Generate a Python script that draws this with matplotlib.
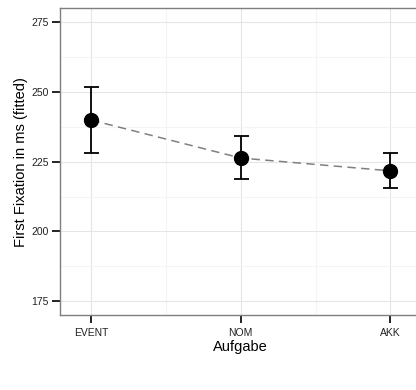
import matplotlib
matplotlib.use("Agg")
import matplotlib.pyplot as plt
from matplotlib.ticker import FixedLocator

categories = ["EVENT", "NOM", "AKK"]
means = [239.9, 226.3, 221.7]
upper = [251.6, 234.2, 228.0]
lower = [228.0, 218.8, 215.7]
yticks = [175, 200, 225, 250, 275]

plt.rcParams['font.family'] = ['Liberation Sans', 'DejaVu Sans']

fig = plt.figure(figsize=(4.16, 3.90), dpi=100)
ax = fig.add_axes([60.3/416, 75/390, 361/416, 306.7/390])

x = list(range(1, len(categories) + 1))
yerr = [[m - l for m, l in zip(means, lower)], [u - m for m, u in zip(means, upper)]]

ax.plot(x, means, linestyle=(0, (5.5, 3.5)), color='#808080', lw=1.1, zorder=2)
ax.errorbar(x, means, yerr=yerr, fmt='none', ecolor='black', elinewidth=1.3,
            capsize=5.4, capthick=1.3, zorder=3)
ax.plot(x, means, 'o', color='black', markersize=10, zorder=4)

ax.set_xlim(0.793, 3.207)
ax.set_ylim(170, 280)
ax.set_xticks(x)
ax.set_xticklabels(categories)
ax.yaxis.set_major_locator(FixedLocator(yticks))
ax.yaxis.set_minor_locator(FixedLocator([187.5, 212.5, 237.5, 262.5]))
ax.xaxis.set_minor_locator(FixedLocator([1.5, 2.5]))

ax.grid(which='major', color='#e5e5e5', lw=0.8, zorder=0)
ax.grid(which='minor', color='#f4f4f4', lw=0.8, zorder=0)
ax.set_axisbelow(True)

for s in ax.spines.values():
    s.set_color('#7f7f7f')
    s.set_linewidth(1.0)

ax.tick_params(axis='both', which='major', length=5.8, width=1.2, color='black',
               labelsize=7.5, labelcolor='#222222')
ax.tick_params(axis='y', pad=2.7)
ax.tick_params(axis='x', pad=3.5)
ax.tick_params(which='minor', length=0)

ax.set_xlabel("Aufgabe", fontsize=10.5, labelpad=1.5)
ax.set_ylabel("First Fixation in ms (fitted)", fontsize=10.5, labelpad=2)

fig.savefig("out.png", dpi=100)
